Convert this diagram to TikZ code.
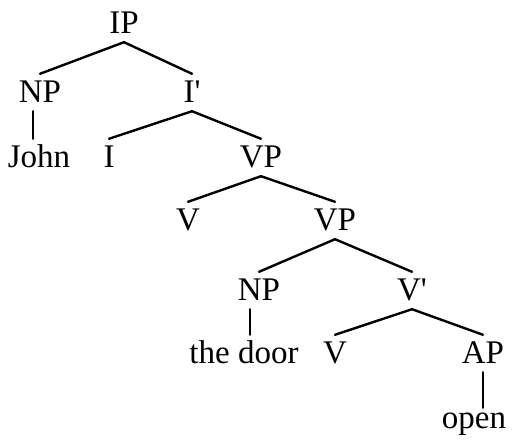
\documentclass[tikz,border=0pt]{standalone}
\usepackage{fontspec}
\setmainfont{Liberation Serif}
\tikzset{
  cat/.style={anchor=base, inner xsep=0pt, inner ysep=5pt, text height=23pt, text depth=4pt, font=\fontsize{33}{40}\selectfont},
  branch/.style={line width=2.4pt, line cap=round},
}
\begin{document}
\begin{tikzpicture}[x=1pt, y=-1pt]
  \useasboundingbox (0,0) rectangle (513,439);
  % categories, row by row
  \node[cat] (ip) at (124,33) {IP};
  \node[cat] (np) at (40,102) {NP};
  \node[cat] (ibar) at (192,102) {I\textquotesingle};
  \node[cat] (john) at (39,167) {John};
  \node[cat] (i) at (109,167) {I};
  \node[cat] (vp) at (261,167) {VP};
  \node[cat] (v) at (188,230) {V};
  \node[cat] (vpb) at (335,230) {VP};
  \node[cat] (npb) at (259,300) {NP};
  \node[cat] (vbar) at (412,300) {V\textquotesingle};
  \node[cat] (door) at (244,363) {the door};
  \node[cat] (vb) at (335,363) {V};
  \node[cat] (ap) at (483,363) {AP};
  \node[cat, text height=15pt] (open) at (474,428) {open};

  % branches
  \foreach \a/\b in {ip/np, ip/ibar, ibar/i, ibar/vp, vp/v, vp/vpb, vpb/npb, vpb/vbar, vbar/vb, vbar/ap}
    \draw[branch] (\a.south) -- (\b.north);
  \draw[branch] ([xshift=-7pt]np.south) -- ([xshift=-7pt]np.south |- john.north);
  \draw[branch] ([xshift=-9pt]npb.south) -- ([xshift=-9pt]npb.south |- door.north);
  \draw[branch] (ap.south) -- (ap.south |- open.north);
\end{tikzpicture}
\end{document}
